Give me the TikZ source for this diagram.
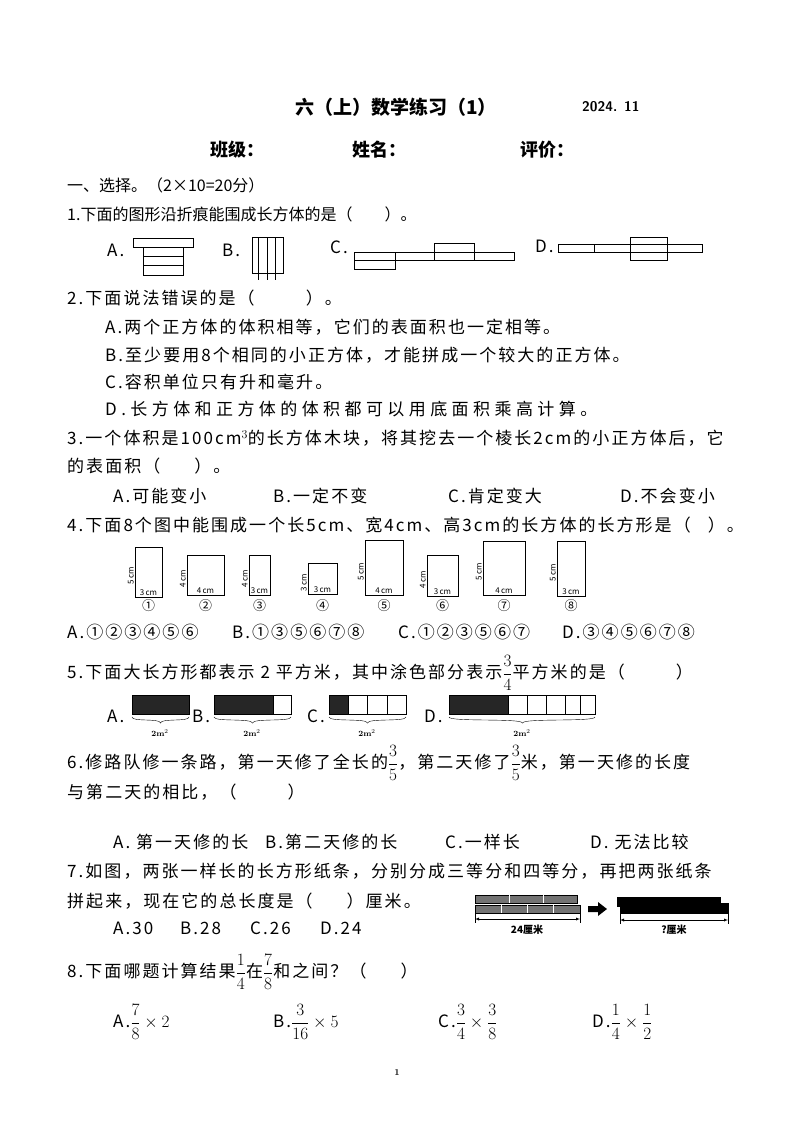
\documentclass[tikz,border=0pt]{standalone}
\usepackage{fontspec}
\newfontfamily\cjk[LetterSpace=12]{Noto Sans CJK SC}
\newfontfamily\cjkw[LetterSpace=26]{Noto Sans CJK SC}
\newfontfamily\cjkn{Noto Sans CJK SC}
\newcommand{\fr}[2]{{\displaystyle\frac{#1}{#2}}}
\begin{document}
\begin{tikzpicture}[x=1pt,y=-1pt,
 t/.style={anchor=west,inner sep=0,font=\cjk\fontsize{17}{17}\selectfont},
 tn/.style={t,font=\cjkn\fontsize{16}{16}\selectfont},
 tb/.style={t,font=\cjkn\bfseries\fontsize{18}{18}\selectfont},
 lb/.style={inner sep=0,font=\cjkn\fontsize{8}{8}\selectfont},
 sh/.style={fill=black!85,draw=black},
 ln/.style={line width=1pt}]
\path[use as bounding box,fill=white] (0,0) rectangle (794,1122);
\node[tb,anchor=center,font=\cjkn\bfseries\fontsize{19}{19}\selectfont] (title) at (396,107) {六（上）数学练习（1）};
\node[tb,font=\bfseries\fontsize{14}{14}\selectfont\sffamily] (date) at (582,107) {2024. 11};
\node[tb] (cls) at (210,150) {班级：};
\node[tb] (nm) at (352,150) {姓名：};
\node[tb] (ev) at (520,150) {评价：};
\node[tn] (s1) at (67,185) {一、选择。（2×10=20分）};
\node[tn] (q1) at (67,214) {1.下面的图形沿折痕能围成长方体的是（\quad\quad）。};
% Q1 figures
\node[t] (q1a) at (107,250) {A.};
\draw[ln] (133,238) rectangle (193,247);
\draw[ln] (143,247) rectangle (183,275);
\draw[ln] (143,256) -- (183,256) (143,265) -- (183,265);
\node[t] (q1b) at (222,250) {B.};
\draw[ln] (252,237) rectangle (283,273);
\draw[ln] (258,237) -- (258,280) (267,237) -- (267,280) (275,237) -- (275,280);
\node[t] (q1c) at (330,247) {C.};
\draw[ln] (354,252) rectangle (514,260);
\draw[ln] (354,260) rectangle (395,269);
\draw[ln] (434,243) rectangle (474,260);
\draw[ln] (395,252) -- (395,260);
\node[t] (q1d) at (535,246) {D.};
\draw[ln] (558,244) rectangle (702,252);
\draw[ln] (594,244) -- (594,252);
\draw[ln] (630,237) rectangle (667,260);
% Q2
\node[t] (q2) at (67,298) {2.下面说法错误的是（\qquad\quad）。};
\node[t] (q2a) at (105,327) {A.两个正方体的体积相等，它们的表面积也一定相等。};
\node[t] (q2b) at (105,355) {B.至少要用8个相同的小正方体，才能拼成一个较大的正方体。};
\node[t] (q2c) at (105,382) {C.容积单位只有升和毫升。};
\node[t,font=\cjkw\fontsize{17}{17}\selectfont] (q2d) at (105,409) {D.长方体和正方体的体积都可以用底面积乘高计算。};
% Q3
\node[t] (q3) at (67,438) {3.一个体积是100cm$^3$的长方体木块，将其挖去一个棱长2cm的小正方体后，它};
\node[t] (q3b) at (67,466) {的表面积（\quad\quad）。};
\node[t] (q3o1) at (113,496) {A.可能变小};
\node[t] (q3o2) at (273,496) {B.一定不变};
\node[t] (q3o3) at (448,496) {C.肯定变大};
\node[t] (q3o4) at (620,496) {D.不会变小};
% Q4
\node[t] (q4) at (67,525) {4.下面8个图中能围成一个长5cm、宽4cm、高3cm的长方体的长方形是（\quad）。};
\foreach \i/\xa/\ya/\xb/\yb/\h/\w in {1/135/547/162/597/5/3,2/187/555/224/595/4/4,3/249/555/270/595/4/3,4/308/563/337/594/3/3,5/365/540/403/595/5/4,6/427/555/458/596/4/3,7/483/541/525/595/5/4,8/557/541/585/596/5/3}{
 \draw[ln] (\xa,\ya) rectangle (\xb,\yb);
 \node[lb,rotate=90,anchor=south] (h\i) at (\xa-1,{(\ya+\yb)/2+4}) {\h\,cm};
 \node[lb,anchor=south] (w\i) at ({(\xa+\xb)/2},\yb-1) {\w\,cm};
 \node[inner sep=0,font=\cjkn\fontsize{13}{13}\selectfont] (c\i) at ({(\xa+\xb)/2},606) {\ifcase\i\or ①\or ②\or ③\or ④\or ⑤\or ⑥\or ⑦\or ⑧\fi};
}
\node[t] (q4o1) at (67,632) {A.①②③④⑤⑥};
\node[t] (q4o2) at (232,632) {B.①③⑤⑥⑦⑧};
\node[t] (q4o3) at (398,632) {C.①②③⑤⑥⑦};
\node[t] (q4o4) at (562,632) {D.③④⑤⑥⑦⑧};
% Q5
\node[t] (q5) at (67,673) {5.下面大长方形都表示 2 平方米，其中涂色部分表示$\fr{3}{4}$平方米的是（\qquad\quad）};
\node[t] (q5a) at (107,716) {A.};
\draw[sh] (132,695) rectangle (189,714);
\draw (132,717) .. controls (132,722) and (160,718) .. (160.5,723) .. controls (161,718) and (189,722) .. (189,717);
\node[lb,font=\bfseries\fontsize{8}{8}\selectfont] (m1) at (160,733) {2m$^2$};
\node[t] (q5b) at (192,716) {B.};
\draw[ln] (214,695) rectangle (291,714);
\draw[sh] (214,695) rectangle (273,714);
\draw (214,717) .. controls (214,722) and (252,718) .. (252.5,723) .. controls (253,718) and (291,722) .. (291,717);
\node[lb,font=\bfseries\fontsize{8}{8}\selectfont] (m2) at (252,733) {2m$^2$};
\node[t] (q5c) at (307,716) {C.};
\draw[ln] (329,695) rectangle (406,714);
\draw[sh] (329,695) rectangle (348,714);
\draw[ln] (367,695) -- (367,714) (387,695) -- (387,714);
\draw (329,717) .. controls (329,722) and (367,718) .. (367.5,723) .. controls (368,718) and (406,722) .. (406,717);
\node[lb,font=\bfseries\fontsize{8}{8}\selectfont] (m3) at (367,733) {2m$^2$};
\node[t] (q5d) at (424,716) {D.};
\draw[ln] (449,695) rectangle (595,714);
\draw[sh] (449,695) rectangle (508,714);
\foreach \k in {527,546,565,580}{\draw[ln] (\k,695) -- (\k,714);}
\draw (449,717) .. controls (449,722) and (522,718) .. (522.5,723) .. controls (523,718) and (595,722) .. (595,717);
\node[lb,font=\bfseries\fontsize{8}{8}\selectfont] (m4) at (522,733) {2m$^2$};
% Q6
\node[t] (q6) at (67,763) {6.修路队修一条路，第一天修了全长的$\fr{3}{5}$，第二天修了$\fr{3}{5}$米，第一天修的长度};
\node[t] (q6b) at (67,792) {与第二天的相比，（\qquad\quad）};
\node[t] (q6o1) at (113,842) {A.\ 第一天修的长};
\node[t] (q6o2) at (265,842) {B.第二天修的长};
\node[t] (q6o3) at (445,842) {C.一样长};
\node[t] (q6o4) at (590,842) {D.\ 无法比较};
% Q7
\node[t] (q7) at (67,871) {7.如图，两张一样长的长方形纸条，分别分成三等分和四等分，再把两张纸条};
\node[t] (q7b) at (67,901) {拼起来，现在它的总长度是（\qquad）厘米。};
\node[t] (q7o1) at (113,928) {A.30};
\node[t] (q7o2) at (180,928) {B.28};
\node[t] (q7o3) at (250,928) {C.26};
\node[t] (q7o4) at (320,928) {D.24};
\draw[fill=black!55] (475,895) rectangle (577,903);
\draw[white,line width=1pt] (509,895) -- (509,903) (543,895) -- (543,903);
\draw[fill=black!55] (475,905) rectangle (580,913);
\draw[white,line width=1pt] (501,905) -- (501,913) (527,905) -- (527,913) (553,905) -- (553,913);
\coordinate (l1) at (475,919); \coordinate (l2) at (580,919);
\draw (475,905) -- (475,923) (580,913) -- (580,923);
\draw[<->,>=latex] (l1) -- (l2);
\node[lb,font=\cjkn\bfseries\fontsize{10}{10}\selectfont] (c24) at (527,930) {24厘米};
\draw[fill=black,draw=none] (588,906) -- (598,906) -- (598,902) -- (607,909) -- (598,916) -- (598,912) -- (588,912) -- cycle;
\draw[fill=black] (617,897) rectangle (720,906);
\draw[fill=black] (620,903) rectangle (728,913);
\coordinate (r1) at (620,920); \coordinate (r2) at (728,920);
\draw (620,913) -- (620,924) (728,913) -- (728,924);
\draw[<->,>=latex] (r1) -- (r2);
\node[lb,font=\cjkn\bfseries\fontsize{10}{10}\selectfont] (cq) at (674,930) {?厘米};
% Q8
\node[t] (q8) at (67,972) {8.下面哪题计算结果$\fr{1}{4}$在$\fr{7}{8}$和之间？（\qquad）};
\node[t] (q8o1) at (113,1022) {A.$\fr{7}{8}\times 2$};
\node[t] (q8o2) at (273,1022) {B.$\fr{3}{16}\times 5$};
\node[t] (q8o3) at (438,1022) {C.$\fr{3}{4}\times\fr{3}{8}$};
\node[t] (q8o4) at (592,1022) {D.$\fr{1}{4}\times\fr{1}{2}$};
\node[inner sep=0,font=\bfseries\fontsize{9}{9}\selectfont] (pg) at (397,1073) {1};
\end{tikzpicture}
\end{document}
